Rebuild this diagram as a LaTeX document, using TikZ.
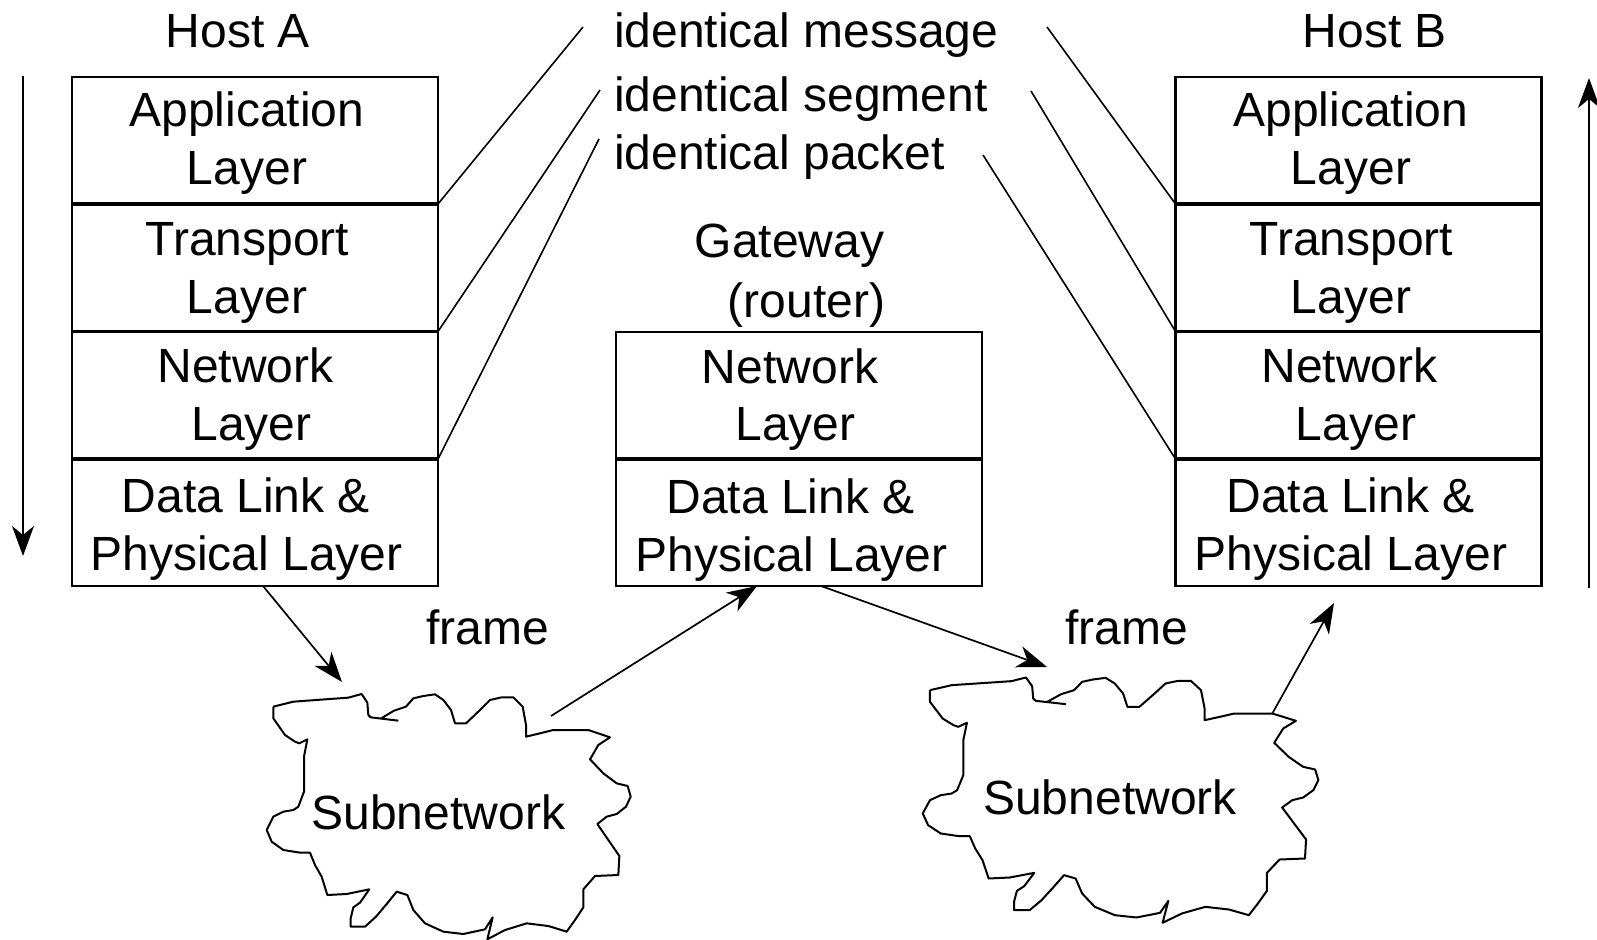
\documentclass[tikz,border=0pt]{standalone}
\usepackage{fontspec}
\setmainfont{Liberation Sans}
\usetikzlibrary{arrows.meta}

% outline of a subnetwork cloud, in local units
\newcommand\subnetoutline{%
 (70,140) -- (130,125) -- (295,113) -- (335,102) -- (352,128) -- (355,165) -- (362,172) -- (445,182)
 (392,176) -- (432,152) -- (468,140) -- (490,115) -- (520,108) -- (555,103) -- (580,120) -- (603,150)
 -- (615,190) -- (648,190) -- (690,150) -- (720,120) -- (755,112) -- (790,112) -- (818,140) -- (828,195)
 -- (828,230) -- (870,220) -- (910,210) -- (1015,210) -- (1080,232) -- (1045,255) -- (1020,298)
 -- (1060,340) -- (1100,370) -- (1133,378) -- (1142,410) -- (1128,440) -- (1100,462) -- (1070,470)
 -- (1042,492) -- (1075,540) -- (1108,588) -- (1105,645) -- (1035,648) -- (1000,688) -- (1000,742)
 -- (975,780) -- (950,815) -- (895,798) -- (830,790) -- (765,810) -- (712,838) -- (728,772) -- (705,808)
 -- (640,822) -- (580,815) -- (525,790) -- (490,750) -- (472,705) -- (440,695) -- (410,732) -- (378,770)
 -- (345,800) -- (302,800) -- (302,775) -- (310,742) -- (330,728) -- (358,688) -- (290,702) -- (232,705)
 -- (215,650) -- (195,615) -- (180,578) -- (150,578) -- (100,570) -- (65,545) -- (50,510) -- (70,470)
 -- (100,455) -- (130,450) -- (145,440) -- (162,395) -- (162,290) -- (172,238) -- (148,250) -- (135,245)
 -- (105,225) -- (70,175) -- (70,140)}

\begin{document}
\begin{tikzpicture}[x=0.5pt,y=-0.5pt,
  every node/.style={font=\fontsize{24pt}{29pt}\selectfont, inner sep=0pt, outer sep=0pt},
  layerbox/.style={draw, line width=1.05pt, minimum width=183pt, minimum height=63.5pt},
  divider/.style={line width=1.6pt},
  txt/.style={anchor=base},
  thinline/.style={line width=0.8pt},
  arr/.style={line width=0.85pt, -{Stealth[length=15pt,width=11pt,inset=4.5pt]}},
  cloudline/.style={line width=1pt, line join=round}
]
\useasboundingbox (0,0) rectangle (1597,940);

% ---- Host A ----
\node[txt] (hostA) at (238,48) {Host A};
\node[layerbox] (A1) at (255,140.5) {};
\node[layerbox] (A2) at (255,268) {};
\node[layerbox] (A3) at (255,395.5) {};
\node[layerbox] (A4) at (255,522.5) {};
\draw[divider] (A1.south west) -- (A1.south east);
\draw[divider] (A2.south west) -- (A2.south east);
\draw[divider] (A3.south west) -- (A3.south east);
\node[txt] (A1a) at (247,127) {Application};
\node[txt] (A1b) at (247,185) {Layer};
\node[txt] (A2a) at (247.5,256) {Transport};
\node[txt] (A2b) at (247,314) {Layer};
\node[txt] (A3a) at (245.5,383) {Network};
\node[txt] (A3b) at (251.5,441) {Layer};
\node[txt] (A4a) at (246,513) {Data Link \&};
\node[txt] (A4b) at (246.5,571) {Physical Layer};

% ---- Gateway ----
\node[txt] (gw) at (789.5,258) {Gateway};
\node[txt] (rt) at (806.5,318) {(router)};
\node[layerbox] (G1) at (799,395.5) {};
\node[layerbox] (G2) at (799,522.5) {};
\draw[divider] (G1.south west) -- (G1.south east);
\node[txt] (G1a) at (790,384) {Network};
\node[txt] (G1b) at (795.5,441) {Layer};
\node[txt] (G2a) at (790.5,514) {Data Link \&};
\node[txt] (G2b) at (791.5,572) {Physical Layer};

% ---- Host B ----
\node[txt] (hostB) at (1375,48) {Host B};
\node[layerbox] (B1) at (1358.5,140.5) {};
\node[layerbox] (B2) at (1358.5,268) {};
\node[layerbox] (B3) at (1358.5,395.5) {};
\node[layerbox] (B4) at (1358.5,522.5) {};
\draw[divider] (B1.south west) -- (B1.south east);
\draw[divider] (B2.south west) -- (B2.south east);
\draw[divider] (B3.south west) -- (B3.south east);
\node[txt] (B1a) at (1351,127) {Application};
\node[txt] (B1b) at (1351,185) {Layer};
\node[txt] (B2a) at (1351.5,256) {Transport};
\node[txt] (B2b) at (1351,314) {Layer};
\node[txt] (B3a) at (1349.5,383) {Network};
\node[txt] (B3b) at (1356,441) {Layer};
\node[txt] (B4a) at (1350.5,513) {Data Link \&};
\node[txt] (B4b) at (1351,571) {Physical Layer};

% ---- peer labels ----
\node[anchor=base west] (msg) at (614,48) {identical message};
\node[anchor=base west] (seg) at (614,112) {identical segment};
\node[anchor=base west] (pkt) at (614,170) {identical packet};

\coordinate (mL) at (583,27);
\coordinate (sL) at (600,90);
\coordinate (pL) at (599,139);
\coordinate (mR) at (1047,27);
\coordinate (sR) at (1031,91);
\coordinate (pR) at (983,155);
\draw[thinline] (A1.south east) -- (mL);
\draw[thinline] (A2.south east) -- (sL);
\draw[thinline] (A3.south east) -- (pL);
\draw[thinline] (B1.south west) -- (mR);
\draw[thinline] (B2.south west) -- (sR);
\draw[thinline] (B3.south west) -- (pR);

% ---- direction arrows ----
\coordinate (downTop) at (23,76);
\coordinate (downEnd) at (23,556);
\coordinate (upBot) at (1589,588);
\coordinate (upTop) at (1589,78);
\draw[arr] (downTop) -- (downEnd);
\draw[arr] (upBot) -- (upTop);

% ---- subnetworks ----
\begin{scope}[xshift=125pt, yshift=-330pt, x=0.166667pt, y=-0.166667pt]
  \draw[cloudline] \subnetoutline;
\end{scope}
\begin{scope}[xshift=452.3pt, yshift=-321.75pt, x=0.18117pt, y=-0.166667pt]
  \draw[cloudline] \subnetoutline;
\end{scope}
\node[txt] (sub1) at (438.3,830) {Subnetwork};
\node[txt] (sub2) at (1110,815) {Subnetwork};

\node[txt] (fr1) at (487.5,645) {frame};
\node[txt] (fr2) at (1126.5,645) {frame};

% ---- frame path ----
\coordinate (c1in) at (342,682);
\coordinate (c1out) at (551,716);
\coordinate (c2in) at (1047,667);
\coordinate (c2out) at (1272,714);
\coordinate (c2tip) at (1334,603);
\draw[arr] ([xshift=95.5pt]A4.south west) -- (c1in);
\draw[arr] (c1out) -- ([xshift=70.5pt]G2.south west);
\draw[arr] ([xshift=102.5pt]G2.south west) -- (c2in);
\draw[arr] (c2out) -- (c2tip);
\end{tikzpicture}
\end{document}
